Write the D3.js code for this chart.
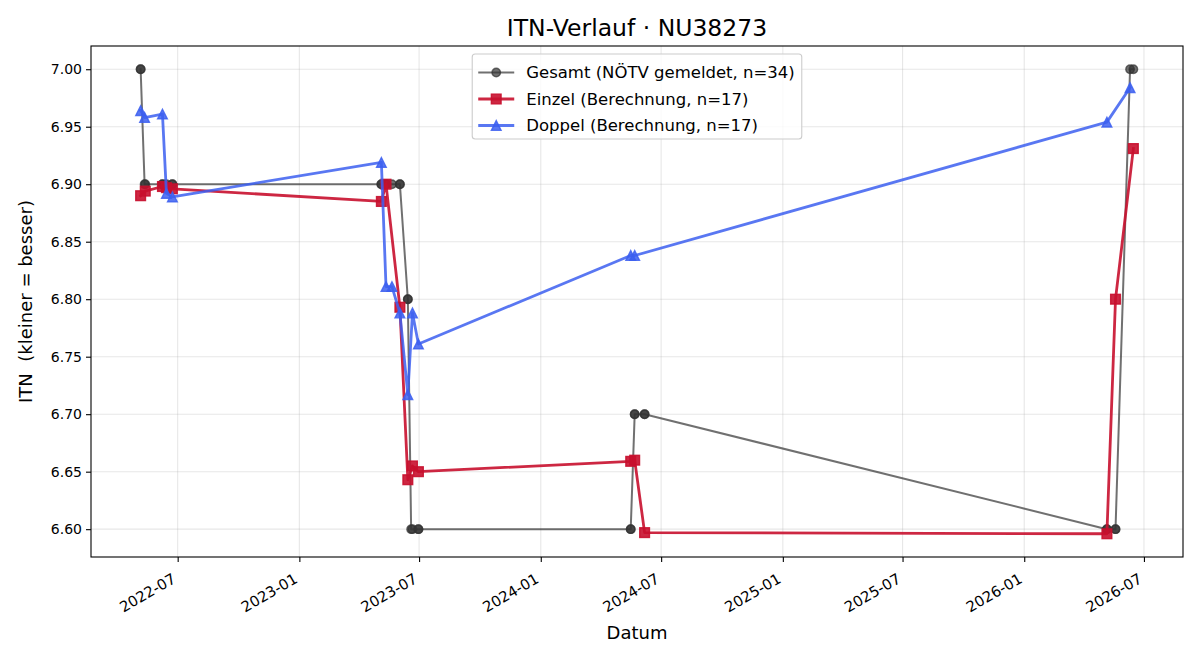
<!DOCTYPE html>
<html>
<head>
<meta charset="utf-8">
<script src="https://cdn.jsdelivr.net/npm/d3@7"></script>
<style>
body { margin: 0; background: #fff; }
svg { font-family: "DejaVu Sans", sans-serif; }
.axis path, .axis line { stroke: #000; stroke-width: 1.1; }
.axis text { font-family: "DejaVu Sans", sans-serif; font-size: 14px; fill: #000; }
.axis.x text { font-size: 14.8px; }
</style>
</head>
<body>
<svg width="1200" height="660"></svg>
<script>
// Gesamt (NÖTV gemeldet)
var gesamtDates = ["2022-05-06","2022-05-06","2022-05-12","2022-05-13","2022-06-08","2022-06-08","2022-06-14",
    "2022-06-23","2022-06-23","2023-05-05","2023-05-05","2023-05-12","2023-05-12","2023-05-21","2023-06-02",
    "2023-06-02","2023-06-14","2023-06-14","2023-06-19","2023-06-21","2023-06-30","2023-06-30","2024-05-16",
    "2024-05-16","2024-05-22","2024-05-22","2024-06-06","2024-06-06","2026-05-06","2026-05-06","2026-05-19",
    "2026-05-19","2026-06-10","2026-06-15"];
var gesamtValues = [7.00, 7.00, 6.90, 6.90, 6.90, 6.90, 6.90, 6.90, 6.90, 6.90, 6.90, 6.90, 6.90, 6.90, 6.90,
    6.90, 6.80, 6.80, 6.60, 6.60, 6.60, 6.60, 6.60, 6.60, 6.70, 6.70, 6.70, 6.70, 6.60, 6.60, 6.60,
    6.60, 7.00, 7.00];

// Einzel (Berechnung)
var einzelDates = ["2022-05-06","2022-05-13","2022-06-08","2022-06-14","2022-06-23","2023-05-05","2023-05-12",
    "2023-06-02","2023-06-14","2023-06-21","2023-06-30","2024-05-16","2024-05-22","2024-06-06","2026-05-06",
    "2026-05-19","2026-06-15"];
var einzelValues = [6.890, 6.894, 6.898, 6.897, 6.896, 6.885, 6.900, 6.793, 6.643, 6.655, 6.650, 6.659, 6.660,
    6.597, 6.596, 6.800, 6.931];

// Doppel (Berechnung)
var doppelDates = ["2022-05-06","2022-05-12","2022-06-08","2022-06-14","2022-06-23","2023-05-05","2023-05-12",
    "2023-05-21","2023-06-02","2023-06-14","2023-06-21","2023-06-30","2024-05-16","2024-05-22","2026-05-06",
    "2026-06-10"];
var doppelValues = [6.964, 6.958, 6.961, 6.892, 6.889, 6.919, 6.811, 6.811, 6.788, 6.717, 6.788, 6.761, 6.838,
    6.838, 6.954, 6.984];

var yTicks = [6.60, 6.65, 6.70, 6.75, 6.80, 6.85, 6.90, 6.95, 7.00];
var legendLabels = ["Gesamt (NÖTV gemeldet, n=34)", "Einzel (Berechnung, n=17)", "Doppel (Berechnung, n=17)"];

var parseDate = d3.timeParse("%Y-%m-%d");
function zip(dates, values) {
    return dates.map(function(d, i) { return {date: parseDate(d), value: values[i]}; });
}
var gesamt = zip(gesamtDates, gesamtValues),
    einzel = zip(einzelDates, einzelValues),
    doppel = zip(doppelDates, doppelValues);

var svg = d3.select("svg"),
    margin = {top: 46, right: 17, bottom: 103, left: 91},
    width = 1200 - margin.left - margin.right,
    height = 660 - margin.top - margin.bottom;
var g = svg.append("g").attr("transform", "translate(" + margin.left + "," + margin.top + ")");

var all = gesamt.concat(einzel, doppel);
var xExt = d3.extent(all, function(d) { return +d.date; }),
    yExt = d3.extent(all, function(d) { return d.value; });
var xPad = (xExt[1] - xExt[0]) * 0.05,
    yPad = (yExt[1] - yExt[0]) * 0.05;

var x = d3.scaleTime()
    .domain([new Date(xExt[0] - xPad), new Date(xExt[1] + xPad)])
    .range([0, width]);
var y = d3.scaleLinear()
    .domain([yExt[0] - yPad, yExt[1] + yPad])
    .range([height, 0]);

var xTicks = x.ticks(d3.timeMonth.every(6));

// grid
g.append("g").selectAll("line").data(xTicks).enter().append("line")
    .attr("x1", function(d) { return x(d); }).attr("x2", function(d) { return x(d); })
    .attr("y1", 0).attr("y2", height)
    .attr("stroke", "#b0b0b0").attr("stroke-opacity", 0.3).attr("stroke-width", 1.1);
g.append("g").selectAll("line").data(yTicks).enter().append("line")
    .attr("y1", function(d) { return y(d); }).attr("y2", function(d) { return y(d); })
    .attr("x1", 0).attr("x2", width)
    .attr("stroke", "#b0b0b0").attr("stroke-opacity", 0.3).attr("stroke-width", 1.1);

// axes
var xAxis = g.append("g")
    .attr("class", "axis x")
    .attr("transform", "translate(0," + height + ")")
    .call(d3.axisBottom(x).tickValues(xTicks).tickFormat(d3.timeFormat("%Y-%m")).tickSize(5).tickSizeOuter(0));
xAxis.select(".domain").remove();
xAxis.selectAll("text")
    .attr("text-anchor", "end")
    .attr("dy", null)
    .attr("y", 0)
    .attr("dominant-baseline", "central")
    .attr("transform", "translate(-4,20) rotate(-30)");

var yAxis = g.append("g")
    .attr("class", "axis")
    .call(d3.axisLeft(y).tickValues(yTicks).tickFormat(d3.format(".2f")).tickSize(5).tickSizeOuter(0));
yAxis.select(".domain").remove();
yAxis.selectAll("text").attr("x", -9);

g.append("rect")
    .attr("width", width).attr("height", height)
    .attr("fill", "none").attr("stroke", "#000").attr("stroke-width", 1.1);

svg.append("text")
    .attr("x", margin.left + width / 2).attr("y", 639)
    .attr("text-anchor", "middle").style("font-size", "18px")
    .text("Datum");
svg.append("text")
    .attr("transform", "translate(32," + (margin.top + height / 2) + ") rotate(-90)")
    .attr("text-anchor", "middle").style("font-size", "18px").style("white-space", "pre")
    .text("ITN  (kleiner = besser)");
svg.append("text")
    .attr("x", margin.left + width / 2).attr("y", 36)
    .attr("text-anchor", "middle").style("font-size", "23.5px")
    .text("ITN-Verlauf · NU38273");

// series
var line = d3.line()
    .x(function(d) { return x(d.date); })
    .y(function(d) { return y(d.value); });

function drawMarker(sel, shape, s) {
    if (shape === "circle") {
        sel.append("circle").attr("r", s / 2);
    } else if (shape === "square") {
        sel.append("rect").attr("x", -s / 2).attr("y", -s / 2).attr("width", s).attr("height", s);
    } else {
        sel.append("path").attr("d", "M0," + (-s / 2) + "L" + (s / 2) + "," + (s / 2) + "L" + (-s / 2) + "," + (s / 2) + "Z");
    }
}

var series = [
    {data: gesamt, color: "#333333", alpha: 0.7, lw: 2, shape: "circle", ms: 8.5},
    {data: einzel, color: "#c8102e", alpha: 0.9, lw: 2.8, shape: "square", ms: 9.7},
    {data: doppel, color: "#3c5ff0", alpha: 0.85, lw: 2.8, shape: "triangle", ms: 9.7}
];

series.forEach(function(s) {
    g.append("path")
        .datum(s.data)
        .attr("fill", "none")
        .attr("stroke", s.color)
        .attr("stroke-opacity", s.alpha)
        .attr("stroke-width", s.lw)
        .attr("stroke-linejoin", "round")
        .attr("stroke-linecap", "square")
        .attr("d", line);
    g.append("g").selectAll("g").data(s.data).enter().append("g")
        .attr("transform", function(d) { return "translate(" + x(d.date) + "," + y(d.value) + ")"; })
        .each(function() { drawMarker(d3.select(this), s.shape, s.ms); })
        .selectAll("*")
        .attr("fill", s.color).attr("fill-opacity", s.alpha)
        .attr("stroke", s.color).attr("stroke-opacity", s.alpha).attr("stroke-width", 1.4);
});

// legend
var legend = svg.append("g").attr("class", "legend");
var box = legend.append("rect")
    .attr("fill", "#fff").attr("fill-opacity", 0.8)
    .attr("stroke", "#cccccc").attr("stroke-width", 1.1).attr("rx", 3);
var rowH = 26.5, maxW = 0;
legendLabels.forEach(function(label, i) {
    var s = series[i], yy = 72.5 + i * rowH;
    var item = legend.append("g").attr("class", "item");
    item.append("line")
        .attr("x1", 0).attr("x2", 36).attr("y1", yy).attr("y2", yy)
        .attr("stroke", s.color).attr("stroke-opacity", s.alpha).attr("stroke-width", s.lw);
    var m = item.append("g").attr("transform", "translate(18," + yy + ")");
    drawMarker(m, s.shape, s.ms);
    m.selectAll("*")
        .attr("fill", s.color).attr("fill-opacity", s.alpha)
        .attr("stroke", s.color).attr("stroke-opacity", s.alpha).attr("stroke-width", 1.4);
    var t = item.append("text")
        .attr("x", 48).attr("y", yy).attr("dy", "0.35em")
        .style("font-size", "16.5px")
        .text(label);
    maxW = Math.max(maxW, t.node().getComputedTextLength());
});
var boxW = 6 + 48 + maxW + 7;
var boxX = margin.left + width / 2 - boxW / 2;
box.attr("x", boxX).attr("y", 54).attr("width", boxW).attr("height", 85);
legend.selectAll("g.item").attr("transform", "translate(" + (boxX + 6) + ",0)");
</script>
</body>
</html>
